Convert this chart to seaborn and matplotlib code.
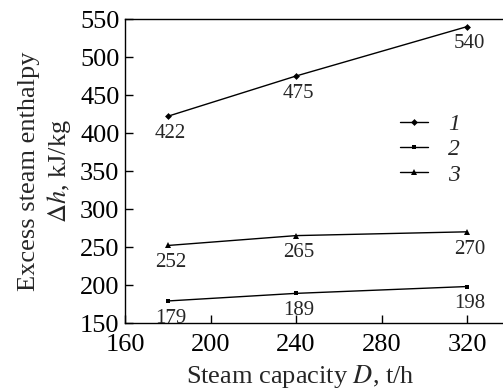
import numpy as np
import pandas as pd
import matplotlib
matplotlib.use("Agg")
import matplotlib.pyplot as plt
import seaborn as sns

# Data
capacity = [180, 240, 320]
series_1 = [422, 475, 540]
series_2 = [179, 189, 198]
series_3 = [252, 265, 270]
series_names = ["1", "2", "3"]

df = pd.DataFrame({
    "capacity": capacity * 3,
    "enthalpy": series_1 + series_2 + series_3,
    "series": [s for s in series_names for _ in capacity],
})

sns.set_style("ticks")
plt.rcParams["font.family"] = ["Liberation Serif", "DejaVu Serif"]
plt.rcParams["mathtext.fontset"] = "stix"

fig = plt.figure(figsize=(5.03, 3.92), dpi=100)
ax = fig.add_axes([0.2485, 0.176, 0.7515, 0.7755])

markers = {"1": "D", "2": "s", "3": "^"}
sizes = {"1": 3.5, "2": 3.5, "3": 4.5}
for name in series_names:
    sub = df[df["series"] == name]
    sns.lineplot(data=sub, x="capacity", y="enthalpy", ax=ax, color="black",
                 linewidth=1.0, marker=markers[name], markersize=sizes[name],
                 markeredgewidth=0, label=name)

# value labels below each point
for x, y in zip(df["capacity"], df["enthalpy"]):
    ax.annotate(str(y), (x, y), xytext=(2, -12.5), textcoords="offset points",
                ha="center", va="center", fontsize=15)

ax.set_xlim(160, 336.8)
ax.set_ylim(150, 550)
ax.set_xticks([160, 200, 240, 280, 320])
ax.set_yticks(np.arange(150, 551, 50))
ax.tick_params(direction="in", length=5.5, width=1, labelsize=19, colors="black")
ax.tick_params(axis="x", pad=8)
ax.tick_params(axis="y", pad=4)
ax.spines["right"].set_visible(False)
for sp in ["left", "bottom", "top"]:
    ax.spines[sp].set_linewidth(1.0)
    ax.spines[sp].set_color("black")

ax.set_xlabel("Steam capacity $D$, t/h", fontsize=19)
ax.xaxis.set_label_coords(0.463, -0.13)
ax.set_ylabel("Excess steam enthalpy\n$\\Delta h$, kJ/kg", fontsize=19,
              linespacing=1.25, labelpad=5)

ax.legend(loc="center left", bbox_to_anchor=(0.671, 0.57), frameon=False,
          handlelength=1.2, labelspacing=0.15, handletextpad=0.85,
          prop={"style": "italic", "size": 17, "family": "Liberation Serif"})

fig.savefig("out.png", dpi=100)
